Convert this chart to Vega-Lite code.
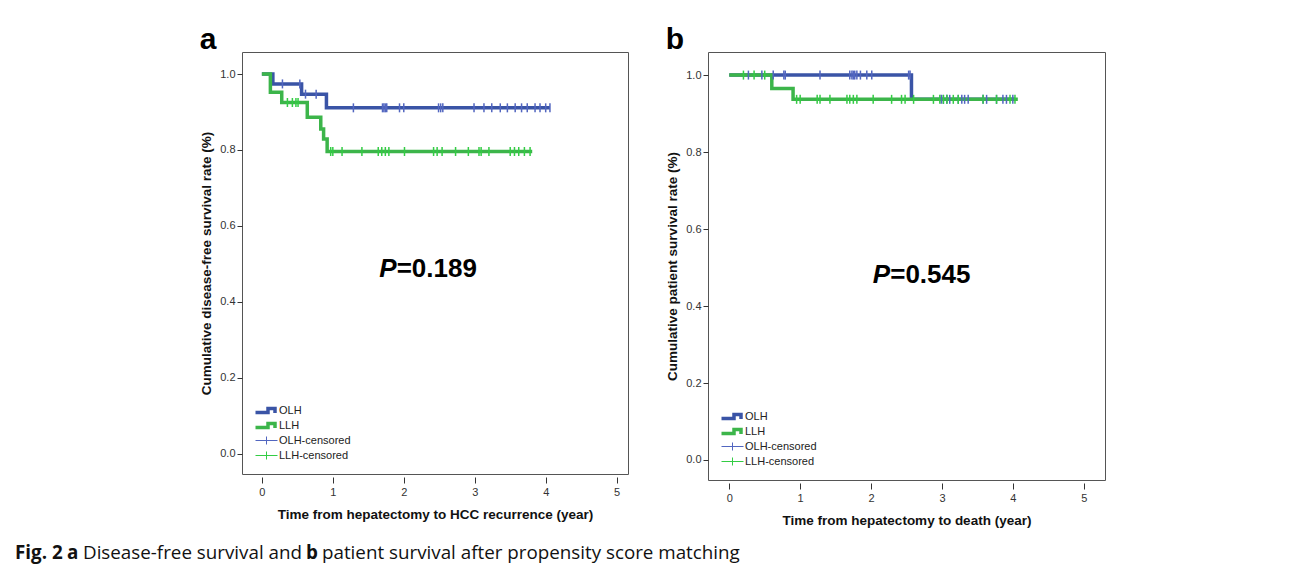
{
  "$schema": "https://vega.github.io/schema/vega-lite/v6.json",
  "background": "white",
  "padding": {"left": 15, "top": 24, "right": 0, "bottom": 0},
  "datasets": {
    "lines": [
      {"panel": "a", "group": "OLH", "t": 0, "s": 1},
      {"panel": "a", "group": "OLH", "t": 0.155, "s": 0.974},
      {"panel": "a", "group": "OLH", "t": 0.56, "s": 0.947},
      {"panel": "a", "group": "OLH", "t": 0.91, "s": 0.911},
      {"panel": "a", "group": "OLH", "t": 4.06, "s": 0.911},
      {"panel": "a", "group": "LLH", "t": 0, "s": 1},
      {"panel": "a", "group": "LLH", "t": 0.12, "s": 0.952},
      {"panel": "a", "group": "LLH", "t": 0.28, "s": 0.925},
      {"panel": "a", "group": "LLH", "t": 0.64, "s": 0.886},
      {"panel": "a", "group": "LLH", "t": 0.83, "s": 0.855},
      {"panel": "a", "group": "LLH", "t": 0.87, "s": 0.829},
      {"panel": "a", "group": "LLH", "t": 0.92, "s": 0.796},
      {"panel": "a", "group": "LLH", "t": 3.81, "s": 0.796},
      {"panel": "b", "group": "OLH", "t": 0, "s": 1},
      {"panel": "b", "group": "OLH", "t": 2.57, "s": 0.937},
      {"panel": "b", "group": "OLH", "t": 4.03, "s": 0.937},
      {"panel": "b", "group": "LLH", "t": 0, "s": 1},
      {"panel": "b", "group": "LLH", "t": 0.6, "s": 0.965},
      {"panel": "b", "group": "LLH", "t": 0.9, "s": 0.937},
      {"panel": "b", "group": "LLH", "t": 4.07, "s": 0.937}
    ],
    "cens": [
      {"panel": "a", "cgroup": "OLH-censored", "t": 0.29, "s": 0.974},
      {"panel": "a", "cgroup": "OLH-censored", "t": 0.535, "s": 0.974},
      {"panel": "a", "cgroup": "OLH-censored", "t": 0.615, "s": 0.947},
      {"panel": "a", "cgroup": "OLH-censored", "t": 0.765, "s": 0.947},
      {"panel": "a", "cgroup": "OLH-censored", "t": 1.29, "s": 0.911},
      {"panel": "a", "cgroup": "OLH-censored", "t": 1.7, "s": 0.911},
      {"panel": "a", "cgroup": "OLH-censored", "t": 1.72, "s": 0.911},
      {"panel": "a", "cgroup": "OLH-censored", "t": 1.74, "s": 0.911},
      {"panel": "a", "cgroup": "OLH-censored", "t": 1.76, "s": 0.911},
      {"panel": "a", "cgroup": "OLH-censored", "t": 1.94, "s": 0.911},
      {"panel": "a", "cgroup": "OLH-censored", "t": 2.0, "s": 0.911},
      {"panel": "a", "cgroup": "OLH-censored", "t": 2.49, "s": 0.911},
      {"panel": "a", "cgroup": "OLH-censored", "t": 2.52, "s": 0.911},
      {"panel": "a", "cgroup": "OLH-censored", "t": 2.55, "s": 0.911},
      {"panel": "a", "cgroup": "OLH-censored", "t": 2.99, "s": 0.911},
      {"panel": "a", "cgroup": "OLH-censored", "t": 3.13, "s": 0.911},
      {"panel": "a", "cgroup": "OLH-censored", "t": 3.24, "s": 0.911},
      {"panel": "a", "cgroup": "OLH-censored", "t": 3.36, "s": 0.911},
      {"panel": "a", "cgroup": "OLH-censored", "t": 3.46, "s": 0.911},
      {"panel": "a", "cgroup": "OLH-censored", "t": 3.57, "s": 0.911},
      {"panel": "a", "cgroup": "OLH-censored", "t": 3.66, "s": 0.911},
      {"panel": "a", "cgroup": "OLH-censored", "t": 3.74, "s": 0.911},
      {"panel": "a", "cgroup": "OLH-censored", "t": 3.85, "s": 0.911},
      {"panel": "a", "cgroup": "OLH-censored", "t": 3.92, "s": 0.911},
      {"panel": "a", "cgroup": "OLH-censored", "t": 4.0, "s": 0.911},
      {"panel": "a", "cgroup": "OLH-censored", "t": 4.06, "s": 0.911},
      {"panel": "a", "cgroup": "LLH-censored", "t": 0.36, "s": 0.925},
      {"panel": "a", "cgroup": "LLH-censored", "t": 0.43, "s": 0.925},
      {"panel": "a", "cgroup": "LLH-censored", "t": 0.48, "s": 0.925},
      {"panel": "a", "cgroup": "LLH-censored", "t": 0.51, "s": 0.925},
      {"panel": "a", "cgroup": "LLH-censored", "t": 0.97, "s": 0.796},
      {"panel": "a", "cgroup": "LLH-censored", "t": 1.0, "s": 0.796},
      {"panel": "a", "cgroup": "LLH-censored", "t": 1.13, "s": 0.796},
      {"panel": "a", "cgroup": "LLH-censored", "t": 1.41, "s": 0.796},
      {"panel": "a", "cgroup": "LLH-censored", "t": 1.64, "s": 0.796},
      {"panel": "a", "cgroup": "LLH-censored", "t": 1.69, "s": 0.796},
      {"panel": "a", "cgroup": "LLH-censored", "t": 1.74, "s": 0.796},
      {"panel": "a", "cgroup": "LLH-censored", "t": 1.79, "s": 0.796},
      {"panel": "a", "cgroup": "LLH-censored", "t": 2.01, "s": 0.796},
      {"panel": "a", "cgroup": "LLH-censored", "t": 2.42, "s": 0.796},
      {"panel": "a", "cgroup": "LLH-censored", "t": 2.47, "s": 0.796},
      {"panel": "a", "cgroup": "LLH-censored", "t": 2.54, "s": 0.796},
      {"panel": "a", "cgroup": "LLH-censored", "t": 2.73, "s": 0.796},
      {"panel": "a", "cgroup": "LLH-censored", "t": 2.91, "s": 0.796},
      {"panel": "a", "cgroup": "LLH-censored", "t": 3.06, "s": 0.796},
      {"panel": "a", "cgroup": "LLH-censored", "t": 3.09, "s": 0.796},
      {"panel": "a", "cgroup": "LLH-censored", "t": 3.2, "s": 0.796},
      {"panel": "a", "cgroup": "LLH-censored", "t": 3.5, "s": 0.796},
      {"panel": "a", "cgroup": "LLH-censored", "t": 3.56, "s": 0.796},
      {"panel": "a", "cgroup": "LLH-censored", "t": 3.62, "s": 0.796},
      {"panel": "a", "cgroup": "LLH-censored", "t": 3.7, "s": 0.796},
      {"panel": "a", "cgroup": "LLH-censored", "t": 3.78, "s": 0.796},
      {"panel": "b", "cgroup": "OLH-censored", "t": 0.27, "s": 1},
      {"panel": "b", "cgroup": "OLH-censored", "t": 0.46, "s": 1},
      {"panel": "b", "cgroup": "OLH-censored", "t": 0.62, "s": 1},
      {"panel": "b", "cgroup": "OLH-censored", "t": 0.77, "s": 1},
      {"panel": "b", "cgroup": "OLH-censored", "t": 0.79, "s": 1},
      {"panel": "b", "cgroup": "OLH-censored", "t": 1.28, "s": 1},
      {"panel": "b", "cgroup": "OLH-censored", "t": 1.7, "s": 1},
      {"panel": "b", "cgroup": "OLH-censored", "t": 1.73, "s": 1},
      {"panel": "b", "cgroup": "OLH-censored", "t": 1.75, "s": 1},
      {"panel": "b", "cgroup": "OLH-censored", "t": 1.77, "s": 1},
      {"panel": "b", "cgroup": "OLH-censored", "t": 1.8, "s": 1},
      {"panel": "b", "cgroup": "OLH-censored", "t": 1.85, "s": 1},
      {"panel": "b", "cgroup": "OLH-censored", "t": 1.94, "s": 1},
      {"panel": "b", "cgroup": "OLH-censored", "t": 2.01, "s": 1},
      {"panel": "b", "cgroup": "OLH-censored", "t": 2.53, "s": 1},
      {"panel": "b", "cgroup": "OLH-censored", "t": 2.55, "s": 1},
      {"panel": "b", "cgroup": "OLH-censored", "t": 2.99, "s": 0.937},
      {"panel": "b", "cgroup": "OLH-censored", "t": 3.02, "s": 0.937},
      {"panel": "b", "cgroup": "OLH-censored", "t": 3.07, "s": 0.937},
      {"panel": "b", "cgroup": "OLH-censored", "t": 3.11, "s": 0.937},
      {"panel": "b", "cgroup": "OLH-censored", "t": 3.23, "s": 0.937},
      {"panel": "b", "cgroup": "OLH-censored", "t": 3.28, "s": 0.937},
      {"panel": "b", "cgroup": "OLH-censored", "t": 3.32, "s": 0.937},
      {"panel": "b", "cgroup": "OLH-censored", "t": 3.37, "s": 0.937},
      {"panel": "b", "cgroup": "OLH-censored", "t": 3.58, "s": 0.937},
      {"panel": "b", "cgroup": "OLH-censored", "t": 3.63, "s": 0.937},
      {"panel": "b", "cgroup": "OLH-censored", "t": 3.77, "s": 0.937},
      {"panel": "b", "cgroup": "OLH-censored", "t": 3.86, "s": 0.937},
      {"panel": "b", "cgroup": "OLH-censored", "t": 3.91, "s": 0.937},
      {"panel": "b", "cgroup": "OLH-censored", "t": 4.0, "s": 0.937},
      {"panel": "b", "cgroup": "LLH-censored", "t": 0.2, "s": 1},
      {"panel": "b", "cgroup": "LLH-censored", "t": 0.35, "s": 1},
      {"panel": "b", "cgroup": "LLH-censored", "t": 0.5, "s": 1},
      {"panel": "b", "cgroup": "LLH-censored", "t": 0.95, "s": 0.937},
      {"panel": "b", "cgroup": "LLH-censored", "t": 1.0, "s": 0.937},
      {"panel": "b", "cgroup": "LLH-censored", "t": 1.24, "s": 0.937},
      {"panel": "b", "cgroup": "LLH-censored", "t": 1.28, "s": 0.937},
      {"panel": "b", "cgroup": "LLH-censored", "t": 1.42, "s": 0.937},
      {"panel": "b", "cgroup": "LLH-censored", "t": 1.66, "s": 0.937},
      {"panel": "b", "cgroup": "LLH-censored", "t": 1.7, "s": 0.937},
      {"panel": "b", "cgroup": "LLH-censored", "t": 1.75, "s": 0.937},
      {"panel": "b", "cgroup": "LLH-censored", "t": 1.8, "s": 0.937},
      {"panel": "b", "cgroup": "LLH-censored", "t": 2.03, "s": 0.937},
      {"panel": "b", "cgroup": "LLH-censored", "t": 2.29, "s": 0.937},
      {"panel": "b", "cgroup": "LLH-censored", "t": 2.43, "s": 0.937},
      {"panel": "b", "cgroup": "LLH-censored", "t": 2.48, "s": 0.937},
      {"panel": "b", "cgroup": "LLH-censored", "t": 2.6, "s": 0.937},
      {"panel": "b", "cgroup": "LLH-censored", "t": 2.88, "s": 0.937},
      {"panel": "b", "cgroup": "LLH-censored", "t": 2.97, "s": 0.937},
      {"panel": "b", "cgroup": "LLH-censored", "t": 3.02, "s": 0.937},
      {"panel": "b", "cgroup": "LLH-censored", "t": 3.07, "s": 0.937},
      {"panel": "b", "cgroup": "LLH-censored", "t": 3.16, "s": 0.937},
      {"panel": "b", "cgroup": "LLH-censored", "t": 3.23, "s": 0.937},
      {"panel": "b", "cgroup": "LLH-censored", "t": 3.58, "s": 0.937},
      {"panel": "b", "cgroup": "LLH-censored", "t": 3.77, "s": 0.937},
      {"panel": "b", "cgroup": "LLH-censored", "t": 3.96, "s": 0.937},
      {"panel": "b", "cgroup": "LLH-censored", "t": 4.03, "s": 0.937}
    ],
    "ptext": [
      {"panel": "a", "part": "P", "label": "P", "t": 1.9, "s": 0.487},
      {"panel": "a", "part": "rest", "label": "=0.189", "t": 1.9, "s": 0.487},
      {"panel": "b", "part": "P", "label": "P", "t": 2.27, "s": 0.48},
      {"panel": "b", "part": "rest", "label": "=0.545", "t": 2.27, "s": 0.48}
    ]
  },
  "vconcat": [
    {
      "hconcat": [
        {"width": 148, "height": 10, "data": {"values": []}, "mark": {"type": "point", "opacity": 0}, "view": {"stroke": null}},
        {
          "width": 386,
          "height": 422,
          "title": {"text": "a", "anchor": "start", "frame": "bounds", "fontSize": 30, "fontWeight": "bold", "font": "Liberation Sans", "color": "#000", "offset": -3},
          "layer": [
            {
              "data": {"name": "lines"},
              "transform": [{"filter": "datum.panel === 'a'"}],
              "mark": {"type": "line", "interpolate": "step-after", "strokeWidth": 3.5},
              "encoding": {
                "x": {"field": "t", "type": "quantitative", "scale": {"domain": [-0.28, 5.16], "nice": false, "zero": false},
                  "axis": {"title": "Time from hepatectomy to HCC recurrence (year)", "values": [0, 1, 2, 3, 4, 5], "format": "d"}},
                "y": {"field": "s", "type": "quantitative", "scale": {"domain": [-0.053, 1.058], "nice": false, "zero": false},
                  "axis": {"title": "Cumulative disease-free survival rate (%)", "values": [0, 0.2, 0.4, 0.6, 0.8, 1], "format": ".1f"}},
                "color": {"field": "group", "type": "nominal", "sort": null,
                  "scale": {"domain": ["OLH", "LLH", "OLH-censored", "LLH-censored"], "range": ["#3a54a6", "#3cb54a", "#5266c0", "#33cc44"]},
                  "legend": {"title": null, "clipHeight": 11,
                    "encode": {"symbols": {"update": {
                      "shape": {"signal": "(datum.value === 'OLH' || datum.value === 'LLH') ? 'M-1,0.4L1.5,0.4L1.5,-0.4L2.9,-0.4L2.9,0.5' : 'M-1,0L3.4,0M1.2,-0.8L1.2,0.8'"},
                      "strokeWidth": {"signal": "(datum.value === 'OLH' || datum.value === 'LLH') ? 3.5 : 1"},
                      "fill": {"value": "transparent"},
                      "opacity": {"value": 1}}}}}}
              }
            },
            {
              "data": {"name": "cens"},
              "transform": [{"filter": "datum.panel === 'a'"}],
              "mark": {"type": "point", "shape": "M0,-1L0,1", "size": 81, "strokeWidth": 1.5, "filled": false, "opacity": 1},
              "encoding": {
                "x": {"field": "t", "type": "quantitative"},
                "y": {"field": "s", "type": "quantitative"},
                "color": {"field": "cgroup", "type": "nominal", "sort": null}
              }
            },
            {
              "data": {"name": "ptext"},
              "transform": [{"filter": "datum.panel === 'a' && datum.part === 'P'"}],
              "mark": {"type": "text", "align": "right", "baseline": "middle", "fontSize": 26, "fontWeight": "bold", "fontStyle": "italic", "color": "#000", "font": "Liberation Sans"},
              "encoding": {"x": {"field": "t", "type": "quantitative"}, "y": {"field": "s", "type": "quantitative"}, "text": {"field": "label"}}
            },
            {
              "data": {"name": "ptext"},
              "transform": [{"filter": "datum.panel === 'a' && datum.part === 'rest'"}],
              "mark": {"type": "text", "align": "left", "baseline": "middle", "fontSize": 26, "fontWeight": "bold", "color": "#000", "font": "Liberation Sans"},
              "encoding": {"x": {"field": "t", "type": "quantitative"}, "y": {"field": "s", "type": "quantitative"}, "text": {"field": "label"}}
            }
          ]
        },
        {
          "width": 397,
          "height": 428,
          "title": {"text": "b", "anchor": "start", "frame": "bounds", "fontSize": 30, "fontWeight": "bold", "font": "Liberation Sans", "color": "#000", "offset": -3},
          "layer": [
            {
              "data": {"name": "lines"},
              "transform": [{"filter": "datum.panel === 'b'"}],
              "mark": {"type": "line", "interpolate": "step-after", "strokeWidth": 3.5},
              "encoding": {
                "x": {"field": "t", "type": "quantitative", "scale": {"domain": [-0.3, 5.3], "nice": false, "zero": false},
                  "axis": {"title": "Time from hepatectomy to death (year)", "values": [0, 1, 2, 3, 4, 5], "format": "d"}},
                "y": {"field": "s", "type": "quantitative", "scale": {"domain": [-0.052, 1.06], "nice": false, "zero": false},
                  "axis": {"title": "Cumulative patient survival rate (%)", "values": [0, 0.2, 0.4, 0.6, 0.8, 1], "format": ".1f"}},
                "color": {"field": "group", "type": "nominal", "sort": null,
                  "scale": {"domain": ["OLH", "LLH", "OLH-censored", "LLH-censored"], "range": ["#3a54a6", "#3cb54a", "#5266c0", "#33cc44"]},
                  "legend": {"title": null, "clipHeight": 11,
                    "encode": {"symbols": {"update": {
                      "shape": {"signal": "(datum.value === 'OLH' || datum.value === 'LLH') ? 'M-1,0.4L1.5,0.4L1.5,-0.4L2.9,-0.4L2.9,0.5' : 'M-1,0L3.4,0M1.2,-0.8L1.2,0.8'"},
                      "strokeWidth": {"signal": "(datum.value === 'OLH' || datum.value === 'LLH') ? 3.5 : 1"},
                      "fill": {"value": "transparent"},
                      "opacity": {"value": 1}}}}}}
              }
            },
            {
              "data": {"name": "cens"},
              "transform": [{"filter": "datum.panel === 'b'"}],
              "mark": {"type": "point", "shape": "M0,-1L0,1", "size": 81, "strokeWidth": 1.5, "filled": false, "opacity": 1},
              "encoding": {
                "x": {"field": "t", "type": "quantitative"},
                "y": {"field": "s", "type": "quantitative"},
                "color": {"field": "cgroup", "type": "nominal", "sort": null}
              }
            },
            {
              "data": {"name": "ptext"},
              "transform": [{"filter": "datum.panel === 'b' && datum.part === 'P'"}],
              "mark": {"type": "text", "align": "right", "baseline": "middle", "fontSize": 26, "fontWeight": "bold", "fontStyle": "italic", "color": "#000", "font": "Liberation Sans"},
              "encoding": {"x": {"field": "t", "type": "quantitative"}, "y": {"field": "s", "type": "quantitative"}, "text": {"field": "label"}}
            },
            {
              "data": {"name": "ptext"},
              "transform": [{"filter": "datum.panel === 'b' && datum.part === 'rest'"}],
              "mark": {"type": "text", "align": "left", "baseline": "middle", "fontSize": 26, "fontWeight": "bold", "color": "#000", "font": "Liberation Sans"},
              "encoding": {"x": {"field": "t", "type": "quantitative"}, "y": {"field": "s", "type": "quantitative"}, "text": {"field": "label"}}
            }
          ]
        }
      ],
      "spacing": 36,
      "resolve": {"scale": {"color": "independent"}, "legend": {"color": "independent"}}
    },
    {
      "hconcat": [
        {"width": 1, "height": 1, "data": {"values": []}, "mark": {"type": "point", "opacity": 0}, "view": {"stroke": null},
         "title": {"text": "Fig. 2", "anchor": "start", "frame": "bounds", "fontWeight": "bold", "fontSize": 18.8, "font": "Open Sans", "color": "#111", "offset": 0}},
        {"width": 1, "height": 1, "data": {"values": []}, "mark": {"type": "point", "opacity": 0}, "view": {"stroke": null},
         "title": {"text": "a", "anchor": "start", "frame": "bounds", "fontWeight": "bold", "fontSize": 18.8, "font": "Open Sans", "color": "#111", "offset": 0}},
        {"width": 1, "height": 1, "data": {"values": []}, "mark": {"type": "point", "opacity": 0}, "view": {"stroke": null},
         "title": {"text": "Disease-free survival and", "anchor": "start", "frame": "bounds", "fontWeight": "normal", "fontSize": 18.8, "font": "Open Sans", "color": "#111", "offset": 0}},
        {"width": 1, "height": 1, "data": {"values": []}, "mark": {"type": "point", "opacity": 0}, "view": {"stroke": null},
         "title": {"text": "b", "anchor": "start", "frame": "bounds", "fontWeight": "bold", "fontSize": 18.8, "font": "Open Sans", "color": "#111", "offset": 0}},
        {"width": 1, "height": 1, "data": {"values": []}, "mark": {"type": "point", "opacity": 0}, "view": {"stroke": null},
         "title": {"text": "patient survival after propensity score matching", "anchor": "start", "frame": "bounds", "fontWeight": "normal", "fontSize": 18.8, "font": "Open Sans", "color": "#111", "offset": 0}}
      ],
      "spacing": 4
    }
  ],
  "spacing": 17,
  "config": {
    "font": "Liberation Sans",
    "view": {"stroke": "#555", "strokeWidth": 1},
    "axis": {
      "grid": false, "domain": false, "tickColor": "#333", "tickWidth": 1,
      "labelFont": "Liberation Sans", "labelFontSize": 11, "labelColor": "#333",
      "titleFont": "Liberation Sans", "titleFontSize": 13.5, "titleFontWeight": "bold", "titleColor": "#111"
    },
    "axisX": {"offset": 3, "tickSize": 6, "labelPadding": 3, "titlePadding": 10},
    "axisY": {"tickSize": 5, "labelPadding": 2, "titlePadding": 6},
    "legend": {
      "orient": "bottom-left", "offset": 13, "padding": 0,
      "labelFont": "Liberation Sans", "labelFontSize": 11, "labelColor": "#222", "labelOffset": 13,
      "symbolSize": 100, "rowPadding": 3
    }
  }
}
